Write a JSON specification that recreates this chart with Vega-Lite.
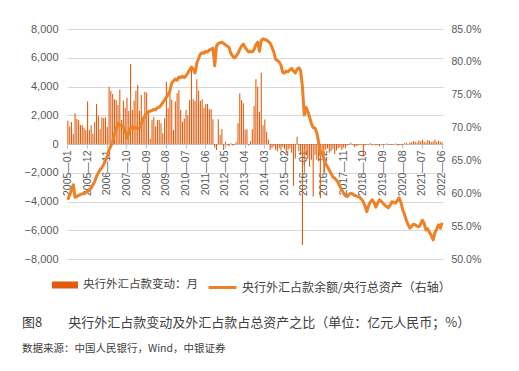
{
"$schema": "https://vega.github.io/schema/vega-lite/v6.json",
"width": 376, "height": 230,
"autosize": {"type": "none"},
"padding": {"left": 67, "top": 29, "right": 76, "bottom": 112},
"background": "white",
"config": {"view": {"stroke": null}, "font": "Liberation Sans"},
"title": {"text": "图8\u3000\u3000央行外汇占款变动及外汇占款占总资产之比（单位：亿元人民币；%）", "subtitle": "数据来源：中国人民银行，Wind，中银证券", "orient": "bottom", "anchor": "start", "frame": "group", "dx": -45, "offset": 23, "font": "Noto Sans CJK SC", "fontSize": 13, "fontWeight": "normal", "color": "#404040", "subtitleFont": "Noto Sans CJK SC", "subtitleFontSize": 10.5, "subtitleColor": "#404040", "subtitlePadding": 14},
"data": {"values": [
{"m":"2005-01","chg":1620,"ratio":59.0},{"m":"2005-02","chg":1210,"ratio":59.8},{"m":"2005-03","chg":1530,"ratio":60.5},{"m":"2005-04","chg":700,"ratio":61.3},{"m":"2005-05","chg":2140,"ratio":59.4},{"m":"2005-06","chg":1740,"ratio":59.5},{"m":"2005-07","chg":1670,"ratio":59.7},{"m":"2005-08","chg":1320,"ratio":59.8},{"m":"2005-09","chg":1300,"ratio":59.9},{"m":"2005-10","chg":1140,"ratio":60.0},{"m":"2005-11","chg":970,"ratio":60.1},{"m":"2005-12","chg":2950,"ratio":60.3},
{"m":"2006-01","chg":970,"ratio":60.5},{"m":"2006-02","chg":1300,"ratio":60.8},{"m":"2006-03","chg":720,"ratio":61.3},{"m":"2006-04","chg":1530,"ratio":61.8},{"m":"2006-05","chg":2780,"ratio":62.6},{"m":"2006-06","chg":1970,"ratio":63.1},{"m":"2006-07","chg":1020,"ratio":63.6},{"m":"2006-08","chg":1860,"ratio":63.9},{"m":"2006-09","chg":1790,"ratio":64.4},{"m":"2006-10","chg":1860,"ratio":65.0},{"m":"2006-11","chg":1200,"ratio":65.6},{"m":"2006-12","chg":3990,"ratio":66.6},
{"m":"2007-01","chg":3690,"ratio":67.2},{"m":"2007-02","chg":3480,"ratio":67.8},{"m":"2007-03","chg":3110,"ratio":69.0},{"m":"2007-04","chg":3060,"ratio":69.8},{"m":"2007-05","chg":2710,"ratio":70.6},{"m":"2007-06","chg":3800,"ratio":70.4},{"m":"2007-07","chg":1670,"ratio":70.3},{"m":"2007-08","chg":3020,"ratio":70.0},{"m":"2007-09","chg":2500,"ratio":69.6},{"m":"2007-10","chg":3200,"ratio":68.4},{"m":"2007-11","chg":2300,"ratio":69.2},{"m":"2007-12","chg":5570,"ratio":69.9},
{"m":"2008-01","chg":2370,"ratio":70.2},{"m":"2008-02","chg":3020,"ratio":69.9},{"m":"2008-03","chg":3710,"ratio":70.0},{"m":"2008-04","chg":4110,"ratio":69.8},{"m":"2008-05","chg":2320,"ratio":69.9},{"m":"2008-06","chg":3410,"ratio":70.6},{"m":"2008-07","chg":1900,"ratio":71.2},{"m":"2008-08","chg":3640,"ratio":71.8},{"m":"2008-09","chg":3570,"ratio":72.2},{"m":"2008-10","chg":2370,"ratio":72.4},{"m":"2008-11","chg":390,"ratio":72.5},{"m":"2008-12","chg":1670,"ratio":72.6},
{"m":"2009-01","chg":1900,"ratio":72.8},{"m":"2009-02","chg":1210,"ratio":72.7},{"m":"2009-03","chg":1670,"ratio":73.0},{"m":"2009-04","chg":1670,"ratio":73.1},{"m":"2009-05","chg":1440,"ratio":73.4},{"m":"2009-06","chg":740,"ratio":73.8},{"m":"2009-07","chg":1800,"ratio":74.2},{"m":"2009-08","chg":4340,"ratio":74.6},{"m":"2009-09","chg":2480,"ratio":75.0},{"m":"2009-10","chg":3760,"ratio":75.6},{"m":"2009-11","chg":3060,"ratio":76.8},{"m":"2009-12","chg":970,"ratio":77.1},
{"m":"2010-01","chg":2950,"ratio":77.4},{"m":"2010-02","chg":3530,"ratio":77.2},{"m":"2010-03","chg":3760,"ratio":77.7},{"m":"2010-04","chg":2370,"ratio":77.6},{"m":"2010-05","chg":1560,"ratio":77.8},{"m":"2010-06","chg":1780,"ratio":77.6},{"m":"2010-07","chg":2370,"ratio":77.9},{"m":"2010-08","chg":2000,"ratio":78.3},{"m":"2010-09","chg":3060,"ratio":78.8},{"m":"2010-10","chg":5150,"ratio":79.2},{"m":"2010-11","chg":3120,"ratio":78.9},{"m":"2010-12","chg":3000,"ratio":78.3},
{"m":"2011-01","chg":4500,"ratio":79.8},{"m":"2011-02","chg":3710,"ratio":80.5},{"m":"2011-03","chg":3000,"ratio":81.2},{"m":"2011-04","chg":3120,"ratio":81.4},{"m":"2011-05","chg":2500,"ratio":81.3},{"m":"2011-06","chg":2780,"ratio":81.6},{"m":"2011-07","chg":2780,"ratio":81.5},{"m":"2011-08","chg":2410,"ratio":81.8},{"m":"2011-09","chg":2410,"ratio":81.9},{"m":"2011-10","chg":1720,"ratio":82.1},{"m":"2011-11","chg":-250,"ratio":79.4},{"m":"2011-12","chg":-420,"ratio":82.4},
{"m":"2012-01","chg":1720,"ratio":82.8},{"m":"2012-02","chg":630,"ratio":82.9},{"m":"2012-03","chg":1020,"ratio":83.0},{"m":"2012-04","chg":-420,"ratio":82.8},{"m":"2012-05","chg":150,"ratio":82.6},{"m":"2012-06","chg":-80,"ratio":82.4},{"m":"2012-07","chg":-150,"ratio":82.2},{"m":"2012-08","chg":60,"ratio":81.3},{"m":"2012-09","chg":-100,"ratio":80.9},{"m":"2012-10","chg":-60,"ratio":80.6},{"m":"2012-11","chg":120,"ratio":80.9},{"m":"2012-12","chg":1440,"ratio":81.3},
{"m":"2013-01","chg":3530,"ratio":81.9},{"m":"2013-02","chg":3060,"ratio":82.4},{"m":"2013-03","chg":2830,"ratio":82.7},{"m":"2013-04","chg":1000,"ratio":82.2},{"m":"2013-05","chg":1020,"ratio":81.8},{"m":"2013-06","chg":-100,"ratio":81.5},{"m":"2013-07","chg":200,"ratio":81.6},{"m":"2013-08","chg":1020,"ratio":81.5},{"m":"2013-09","chg":2640,"ratio":81.9},{"m":"2013-10","chg":4500,"ratio":82.6},{"m":"2013-11","chg":3990,"ratio":83.0},{"m":"2013-12","chg":2250,"ratio":81.6},
{"m":"2014-01","chg":4960,"ratio":83.3},{"m":"2014-02","chg":1300,"ratio":83.5},{"m":"2014-03","chg":1700,"ratio":83.4},{"m":"2014-04","chg":860,"ratio":83.3},{"m":"2014-05","chg":300,"ratio":83.1},{"m":"2014-06","chg":-420,"ratio":82.8},{"m":"2014-07","chg":-300,"ratio":82.2},{"m":"2014-08","chg":-150,"ratio":81.5},{"m":"2014-09","chg":-400,"ratio":80.4},{"m":"2014-10","chg":-500,"ratio":80.2},{"m":"2014-11","chg":-300,"ratio":80.0},{"m":"2014-12","chg":-450,"ratio":79.5},
{"m":"2015-01","chg":-200,"ratio":78.4},{"m":"2015-02","chg":-350,"ratio":78.3},{"m":"2015-03","chg":-650,"ratio":78.6},{"m":"2015-04","chg":-400,"ratio":78.5},{"m":"2015-05","chg":-300,"ratio":78.8},{"m":"2015-06","chg":-600,"ratio":79.0},{"m":"2015-07","chg":-2900,"ratio":78.6},{"m":"2015-08","chg":-1000,"ratio":78.3},{"m":"2015-09","chg":500,"ratio":78.9},{"m":"2015-10","chg":-500,"ratio":79.1},{"m":"2015-11","chg":-700,"ratio":78.6},{"m":"2015-12","chg":-7030,"ratio":76.2},
{"m":"2016-01","chg":-1500,"ratio":71.9},{"m":"2016-02","chg":-770,"ratio":73.1},{"m":"2016-03","chg":-1000,"ratio":72.4},{"m":"2016-04","chg":-1580,"ratio":71.6},{"m":"2016-05","chg":-1100,"ratio":70.6},{"m":"2016-06","chg":-3660,"ratio":70.0},{"m":"2016-07","chg":-770,"ratio":69.9},{"m":"2016-08","chg":-1100,"ratio":69.2},{"m":"2016-09","chg":-1200,"ratio":67.8},{"m":"2016-10","chg":-3780,"ratio":65.9},{"m":"2016-11","chg":-770,"ratio":66.3},{"m":"2016-12","chg":-2000,"ratio":65.2},
{"m":"2017-01","chg":-400,"ratio":64.5},{"m":"2017-02","chg":-300,"ratio":64.0},{"m":"2017-03","chg":-600,"ratio":63.5},{"m":"2017-04","chg":-500,"ratio":63.0},{"m":"2017-05","chg":-350,"ratio":62.5},{"m":"2017-06","chg":-700,"ratio":62.3},{"m":"2017-07","chg":-450,"ratio":62.0},{"m":"2017-08","chg":-300,"ratio":61.6},{"m":"2017-09","chg":-250,"ratio":61.0},{"m":"2017-10","chg":-400,"ratio":60.5},{"m":"2017-11","chg":-200,"ratio":60.0},{"m":"2017-12","chg":-300,"ratio":59.6},
{"m":"2018-01","chg":-100,"ratio":59.5},{"m":"2018-02","chg":-50,"ratio":59.8},{"m":"2018-03","chg":80,"ratio":60.0},{"m":"2018-04","chg":-60,"ratio":59.9},{"m":"2018-05","chg":-200,"ratio":59.7},{"m":"2018-06","chg":-150,"ratio":59.6},{"m":"2018-07","chg":-100,"ratio":59.5},{"m":"2018-08","chg":-30,"ratio":59.4},{"m":"2018-09","chg":-50,"ratio":59.1},{"m":"2018-10","chg":-880,"ratio":58.7},{"m":"2018-11","chg":-100,"ratio":58.0},{"m":"2018-12","chg":-50,"ratio":57.2},
{"m":"2019-01","chg":-30,"ratio":58.2},{"m":"2019-02","chg":50,"ratio":58.7},{"m":"2019-03","chg":-80,"ratio":59.0},{"m":"2019-04","chg":-20,"ratio":58.6},{"m":"2019-05","chg":-100,"ratio":57.9},{"m":"2019-06","chg":-60,"ratio":58.5},{"m":"2019-07","chg":-150,"ratio":59.0},{"m":"2019-08","chg":-30,"ratio":58.8},{"m":"2019-09","chg":-80,"ratio":58.5},{"m":"2019-10","chg":-40,"ratio":58.2},{"m":"2019-11","chg":30,"ratio":58.0},{"m":"2019-12","chg":-60,"ratio":57.8},
{"m":"2020-01","chg":-50,"ratio":58.2},{"m":"2020-02","chg":-70,"ratio":58.7},{"m":"2020-03","chg":-40,"ratio":58.6},{"m":"2020-04","chg":30,"ratio":58.5},{"m":"2020-05","chg":-100,"ratio":58.9},{"m":"2020-06","chg":-80,"ratio":59.3},{"m":"2020-07","chg":-60,"ratio":58.6},{"m":"2020-08","chg":-90,"ratio":57.5},{"m":"2020-09","chg":50,"ratio":56.8},{"m":"2020-10","chg":80,"ratio":55.9},{"m":"2020-11","chg":-40,"ratio":55.2},{"m":"2020-12","chg":100,"ratio":54.7},
{"m":"2021-01","chg":120,"ratio":55.0},{"m":"2021-02","chg":200,"ratio":55.3},{"m":"2021-03","chg":150,"ratio":55.2},{"m":"2021-04","chg":80,"ratio":55.0},{"m":"2021-05","chg":250,"ratio":54.9},{"m":"2021-06","chg":180,"ratio":55.3},{"m":"2021-07","chg":300,"ratio":55.9},{"m":"2021-08","chg":150,"ratio":55.4},{"m":"2021-09","chg":100,"ratio":54.4},{"m":"2021-10","chg":260,"ratio":54.6},{"m":"2021-11","chg":220,"ratio":54.0},{"m":"2021-12","chg":120,"ratio":53.6},
{"m":"2022-01","chg":180,"ratio":52.9},{"m":"2022-02","chg":300,"ratio":54.0},{"m":"2022-03","chg":140,"ratio":54.6},{"m":"2022-04","chg":220,"ratio":55.2},{"m":"2022-05","chg":160,"ratio":54.7},{"m":"2022-06","chg":100,"ratio":55.5}
]},
"encoding": {"x": {"field": "m", "type": "ordinal", "sort": null, "title": null,
  "scale": {"paddingInner": 0, "paddingOuter": 0},
  "axis": {"values": ["2005-01","2005-12","2006-11","2007-10","2008-09","2009-08","2010-07","2011-06","2012-05","2013-04","2014-03","2015-02","2016-01","2016-12","2017-11","2018-10","2019-09","2020-08","2021-07","2022-06"],
    "offset": -115, "labelAngle": -90, "labelFont": "Liberation Sans", "labelFontSize": 10.5, "labelColor": "#595959", "labelPadding": 2,
    "labelExpr": "replace(datum.label, '-', '—')",
    "domainColor": "#bfbfbf", "tickColor": "#bfbfbf", "tickSize": 4, "grid": false}}},
"layer": [
  {"mark": {"type": "bar", "width": {"band": 0.6}},
   "encoding": {
     "y": {"field": "chg", "type": "quantitative", "title": null,
       "scale": {"domain": [-8000, 8000], "nice": false},
       "axis": {"values": [-8000,-6000,-4000,-2000,0,2000,4000,6000,8000], "labelExpr": "format(datum.value, ',')", "domain": false, "ticks": false, "labelPadding": 9, "labelFontSize": 11, "labelColor": "#595959", "gridColor": "#d9d9d9", "gridWidth": 1}},
     "color": {"datum": "央行外汇占款变动：月", "scale": {"range": ["#E15B0C"]},
       "legend": {"orient": "none", "legendX": -15, "legendY": 243, "title": null, "symbolType": "M-1,-0.27H1V0.27H-1Z", "symbolSize": 676, "symbolStrokeWidth": 0, "labelFont": "Noto Sans CJK SC", "labelFontSize": 11.5, "labelColor": "#404040", "labelOffset": 5, "labelLimit": 0}}}},
  {"mark": {"type": "line", "strokeWidth": 3, "strokeJoin": "round"},
   "encoding": {
     "y": {"field": "ratio", "type": "quantitative", "title": null,
       "scale": {"domain": [50, 85], "nice": false, "zero": false},
       "axis": {"orient": "right", "values": [50,55,60,65,70,75,80,85], "labelExpr": "format(datum.value, '.1f') + '%'", "domain": false, "ticks": false, "grid": false, "labelPadding": 8, "labelFontSize": 10.5, "labelColor": "#595959"}},
     "color": {"datum": "央行外汇占款余额/央行总资产（右轴）", "scale": {"range": ["#F08024"]},
       "legend": {"orient": "none", "legendX": 140, "legendY": 243, "title": null, "symbolType": "stroke", "symbolSize": 784, "symbolStrokeWidth": 3, "labelFont": "Noto Sans CJK SC", "labelFontSize": 12, "labelColor": "#404040", "labelOffset": 4, "labelLimit": 0}}}}
],
"resolve": {"scale": {"y": "independent", "color": "independent"}}
}
